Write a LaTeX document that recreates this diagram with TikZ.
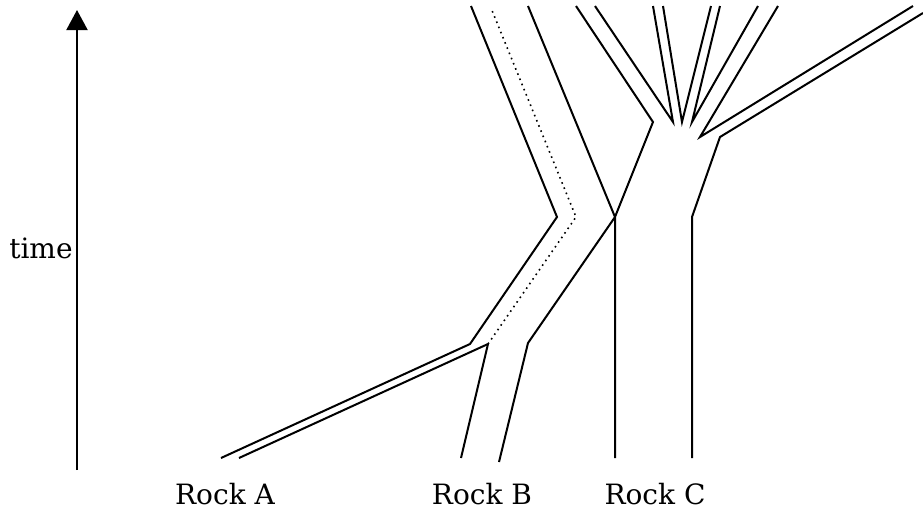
\documentclass[tikz,border=0pt]{standalone}
\usepackage{fontspec}
\setmainfont{DejaVu Serif}
\usetikzlibrary{arrows.meta}
\tikzset{
  track/.style={line width=1pt},
  ghost/.style={line width=0.8pt, dotted},
  rocklabel/.style={anchor=base, font=\fontsize{14}{17}\selectfont}
}

\begin{document}
\begin{tikzpicture}[x=0.5pt,y=-0.5pt]
			%%%%% START %%%%%
			\useasboundingbox (0,0) rectangle (923,510);
			
			% time axis
			\coordinate (t0) at (77,470);
			\coordinate (t1) at (77,10);
			\draw[line width=1pt, -{Triangle[length=10pt,width=10.5pt]}] (t0) -- (t1);
			\node[rocklabel, anchor=base east, inner sep=0pt] (time) at (73,258) {time};
			
			% merge points
			\coordinate (ab) at (488,344);
			\coordinate (bc) at (615,217);
			
			% Rock A
			\draw[track] (221,458) -- (470,344) -- (557,217) -- (471,6);
			\draw[track] (239,458) -- (ab);
			
			% Rock B
			\draw[track] (461,458) -- (ab);
			\draw[ghost] (ab) -- (576,217) -- (491,8);
			\draw[track] (499,462) -- (528,343) -- (bc);
			\draw[track] (528,6) -- (bc);
			
			% Rock C
			\draw[track] (615,458) -- (bc) -- (653,122) -- (576,6);
			\draw[track] (595,6) -- (673,122) -- (653,6);
			\draw[track] (663,6) -- (682,122) -- (711,6);
			\draw[track] (720,6) -- (692,122) -- (758,6);
			\draw[track] (778,6) -- (700,137) -- (913,6);
			\draw[track] (923,13) -- (720,137) -- (692,217) -- (692,458);
			
			\node[rocklabel] (rockA) at (225,504) {Rock A};
			\node[rocklabel] (rockB) at (482,504) {Rock B};
			\node[rocklabel] (rockC) at (655,504) {Rock C};
			
			%%%%% END %%%%%
\end{tikzpicture}
\end{document}
